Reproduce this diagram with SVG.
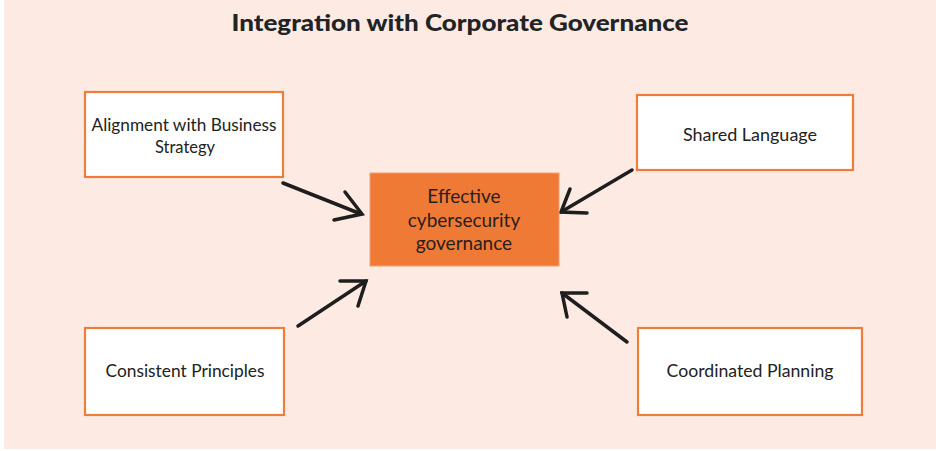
<svg xmlns="http://www.w3.org/2000/svg" width="936" height="451" viewBox="0 0 936 451">
<defs>
<style>
.box{fill:#ffffff;stroke:#EE7D3A;stroke-width:2.2}
.lbl{font-family:Lato,"Open Sans",sans-serif;font-size:16.5px;fill:#222222;text-anchor:middle}
.clbl{font-family:Lato,"Open Sans",sans-serif;font-size:19px;fill:#2a2020;text-anchor:middle}
.title{font-family:Lato,"Liberation Sans",sans-serif;font-weight:900;font-size:22px;fill:#222326;text-anchor:middle}
.arr{fill:none;stroke:#1e1e1e;stroke-width:3.5;stroke-linecap:round;stroke-linejoin:miter}
</style>
</defs>
<rect x="0" y="0" width="936" height="451" fill="#ffffff"/>
<rect x="4" y="0" width="932" height="449" fill="#FDEBE3"/>
<text class="title" x="460" y="31" textLength="457" lengthAdjust="spacingAndGlyphs">Integration with Corporate Governance</text>
<g id="connectors">
<path class="arr" d="M283,183 L361,214"/>
<path class="arr" d="M345,192 L362,214 L334,220"/>
<path class="arr" d="M632,170 L561,212"/>
<path class="arr" d="M570,189 L561,212 L587,213"/>
<path class="arr" d="M298,326 L366,281"/>
<path class="arr" d="M340,281 L366,281 L358,306"/>
<path class="arr" d="M627,342 L562,293"/>
<path class="arr" d="M567,317 L562,293 L587,293"/>
</g>
<g id="center">
<rect x="370" y="173" width="189" height="93" fill="#EE7A35" stroke="#F4A070" stroke-width="1"/>
<text class="clbl" x="464" y="203">Effective</text>
<text class="clbl" x="464" y="227">cybersecurity</text>
<text class="clbl" x="464" y="250">governance</text>
</g>
<g id="alignment">
<rect class="box" x="85" y="92" width="198" height="85"/>
<text class="lbl" x="184" y="131" textLength="185" lengthAdjust="spacingAndGlyphs">Alignment with Business</text>
<text class="lbl" x="185" y="153">Strategy</text>
</g>
<g id="shared">
<rect class="box" x="637" y="95" width="216" height="75"/>
<text class="lbl" x="750" y="141" textLength="134" lengthAdjust="spacingAndGlyphs">Shared Language</text>
</g>
<g id="consistent">
<rect class="box" x="85" y="328" width="199" height="87"/>
<text class="lbl" x="185" y="377" textLength="159" lengthAdjust="spacingAndGlyphs">Consistent Principles</text>
</g>
<g id="coordinated">
<rect class="box" x="638" y="328" width="224" height="87"/>
<text class="lbl" x="750" y="377" textLength="167" lengthAdjust="spacingAndGlyphs">Coordinated Planning</text>
</g>
</svg>
